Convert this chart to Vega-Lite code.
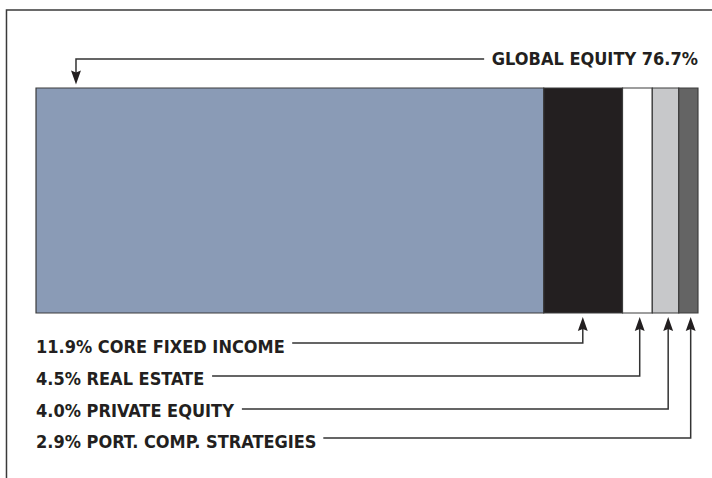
{
  "$schema": "https://vega.github.io/schema/vega-lite/v6.json",
  "width": 712,
  "height": 478,
  "autosize": {"type": "none"},
  "padding": 0,
  "background": "#ffffff",
  "config": {"view": {"stroke": null}},
  "datasets": {
    "segments": [
      {"cat": "Global Equity", "pct": 76.7, "k": 1},
      {"cat": "Core Fixed Income", "pct": 11.9, "k": 2},
      {"cat": "Real Estate", "pct": 4.5, "k": 3},
      {"cat": "Private Equity", "pct": 4.0, "k": 4},
      {"cat": "Port. Comp. Strategies", "pct": 2.9, "k": 5}
    ],
    "bottomLabels": [
      {"text": "11.9% CORE FIXED INCOME", "x": 0, "y": 353},
      {"text": "4.5% REAL ESTATE", "x": 0, "y": 385},
      {"text": "4.0% PRIVATE EQUITY", "x": 0, "y": 417},
      {"text": "2.9% PORT. COMP. STRATEGIES", "x": 0, "y": 448}
    ],
    "topLabels": [
      {"text": "GLOBAL EQUITY 76.7%", "x": 100, "y": 65}
    ],
    "leaders": [
      {"g": "ge", "i": 1, "x": 67.7, "y": 59},
      {"g": "ge", "i": 2, "x": 6.04, "y": 59},
      {"g": "ge", "i": 3, "x": 6.04, "y": 78},
      {"g": "cfi", "i": 1, "x": 38.7, "y": 343},
      {"g": "cfi", "i": 2, "x": 82.6, "y": 343},
      {"g": "cfi", "i": 3, "x": 82.6, "y": 324},
      {"g": "re", "i": 1, "x": 26.6, "y": 376},
      {"g": "re", "i": 2, "x": 91.2, "y": 376},
      {"g": "re", "i": 3, "x": 91.2, "y": 324},
      {"g": "pe", "i": 1, "x": 31.1, "y": 409},
      {"g": "pe", "i": 2, "x": 95.5, "y": 409},
      {"g": "pe", "i": 3, "x": 95.5, "y": 324},
      {"g": "pcs", "i": 1, "x": 43.4, "y": 438},
      {"g": "pcs", "i": 2, "x": 98.9, "y": 438},
      {"g": "pcs", "i": 3, "x": 98.9, "y": 324}
    ],
    "arrows": [
      {"x": 6.04, "y": 77.5, "angle": 180},
      {"x": 82.6, "y": 324, "angle": 0},
      {"x": 91.2, "y": 324, "angle": 0},
      {"x": 95.5, "y": 324, "angle": 0},
      {"x": 98.9, "y": 324, "angle": 0}
    ],
    "frame": [
      {"i": 1, "x": -4.46, "y": 478},
      {"i": 2, "x": -4.46, "y": 10},
      {"i": 3, "x": 102.12, "y": 10}
    ]
  },
  "layer": [
    {
      "data": {"name": "frame"},
      "mark": {"type": "line", "color": "#3a3a3a", "strokeWidth": 1.5},
      "encoding": {
        "x": {"field": "x", "type": "quantitative", "scale": {"domain": [-5.44, 102.12], "nice": false, "zero": false}, "axis": null},
        "y": {"field": "y", "type": "quantitative", "scale": {"domain": [0, 478], "reverse": true, "nice": false, "zero": false}, "axis": null},
        "order": {"field": "i", "type": "quantitative"}
      }
    },
    {
      "data": {"name": "segments"},
      "transform": [
        {"stack": "pct", "groupby": [], "sort": [{"field": "k", "order": "ascending"}], "as": ["x0", "x1"]}
      ],
      "mark": {"type": "rect", "stroke": "#3c3c3c", "strokeWidth": 1.2},
      "encoding": {
        "x": {"field": "x0", "type": "quantitative", "scale": {"domain": [-5.44, 102.12], "nice": false, "zero": false}, "axis": null},
        "x2": {"field": "x1"},
        "y": {"datum": 88, "type": "quantitative", "scale": {"domain": [0, 478], "reverse": true, "nice": false, "zero": false}, "axis": null},
        "y2": {"datum": 313},
        "color": {
          "field": "cat",
          "type": "nominal",
          "scale": {
            "domain": ["Global Equity", "Core Fixed Income", "Real Estate", "Private Equity", "Port. Comp. Strategies"],
            "range": ["#8a9bb6", "#231f20", "#ffffff", "#c7c8ca", "#646464"]
          },
          "legend": null
        }
      }
    },
    {
      "data": {"name": "leaders"},
      "mark": {"type": "line", "color": "#333333", "strokeWidth": 1.5},
      "encoding": {
        "x": {"field": "x", "type": "quantitative", "scale": {"domain": [-5.44, 102.12], "nice": false, "zero": false}, "axis": null},
        "y": {"field": "y", "type": "quantitative", "scale": {"domain": [0, 478], "reverse": true, "nice": false, "zero": false}, "axis": null},
        "detail": {"field": "g", "type": "nominal"},
        "order": {"field": "i", "type": "quantitative"}
      }
    },
    {
      "data": {"name": "arrows"},
      "mark": {"type": "point", "filled": true, "color": "#231f20", "opacity": 1, "shape": "M0,-1L0.7,1L0,0.7L-0.7,1Z", "size": 200},
      "encoding": {
        "x": {"field": "x", "type": "quantitative", "scale": {"domain": [-5.44, 102.12], "nice": false, "zero": false}, "axis": null},
        "y": {"field": "y", "type": "quantitative", "scale": {"domain": [0, 478], "reverse": true, "nice": false, "zero": false}, "axis": null},
        "angle": {"field": "angle", "type": "quantitative", "scale": null}
      }
    },
    {
      "data": {"name": "bottomLabels"},
      "mark": {"type": "text", "align": "left", "baseline": "alphabetic", "font": "DejaVu Sans Condensed", "fontWeight": "bold", "fontSize": 18, "color": "#231f20"},
      "encoding": {
        "x": {"field": "x", "type": "quantitative", "scale": {"domain": [-5.44, 102.12], "nice": false, "zero": false}, "axis": null},
        "y": {"field": "y", "type": "quantitative", "scale": {"domain": [0, 478], "reverse": true, "nice": false, "zero": false}, "axis": null},
        "text": {"field": "text"}
      }
    },
    {
      "data": {"name": "topLabels"},
      "mark": {"type": "text", "align": "right", "baseline": "alphabetic", "font": "DejaVu Sans Condensed", "fontWeight": "bold", "fontSize": 18, "color": "#231f20"},
      "encoding": {
        "x": {"field": "x", "type": "quantitative", "scale": {"domain": [-5.44, 102.12], "nice": false, "zero": false}, "axis": null},
        "y": {"field": "y", "type": "quantitative", "scale": {"domain": [0, 478], "reverse": true, "nice": false, "zero": false}, "axis": null},
        "text": {"field": "text"}
      }
    }
  ]
}
